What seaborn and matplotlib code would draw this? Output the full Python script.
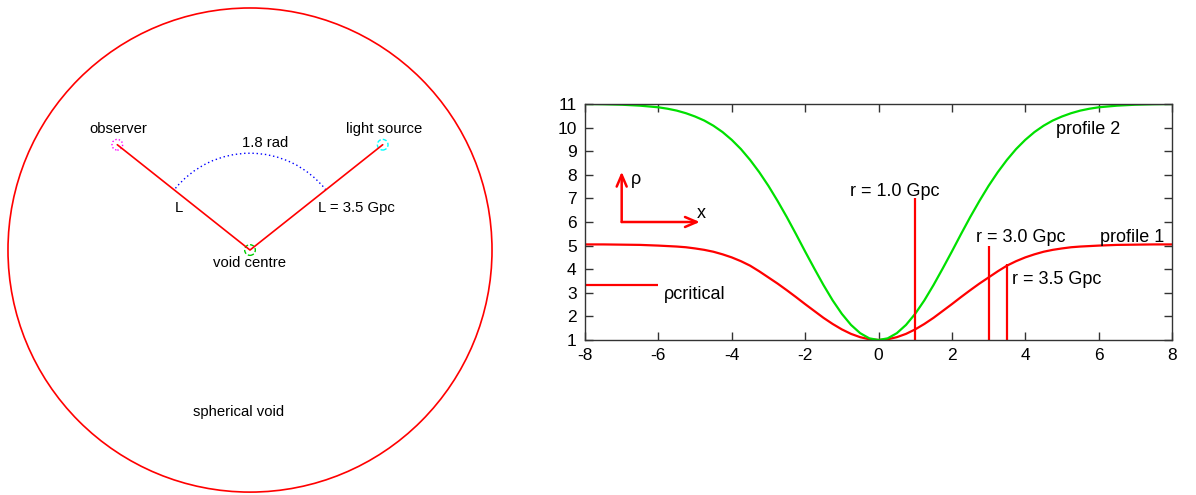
import numpy as np
import pandas as pd
import matplotlib
matplotlib.use('Agg')
import matplotlib.pyplot as plt
from matplotlib.patches import Circle, Arc
import seaborn as sns

# Density profiles
x_vals = [-8.0, -7.5, -7.0, -6.5, -6.0, -5.75, -5.5, -5.25, -5.0, -4.75, -4.5, -4.25,
          -4.0, -3.75, -3.5, -3.25, -3.0, -2.75, -2.5, -2.25, -2.0, -1.75, -1.5, -1.25,
          -1.0, -0.75, -0.5, -0.25, 0.0, 0.25, 0.5, 0.75, 1.0, 1.25, 1.5, 1.75,
          2.0, 2.25, 2.5, 2.75, 3.0, 3.25, 3.5, 3.75, 4.0, 4.25, 4.5, 4.75,
          5.0, 5.25, 5.5, 5.75, 6.0, 6.5, 7.0, 7.5, 8.0]
profile1 = [5.05, 5.05, 5.04, 5.03, 5.00, 4.98, 4.96, 4.93, 4.88, 4.82, 4.74, 4.63,
            4.50, 4.34, 4.15, 3.91, 3.65, 3.39, 3.11, 2.82, 2.52, 2.23, 1.94, 1.68,
            1.45, 1.26, 1.12, 1.03, 1.00, 1.03, 1.12, 1.26, 1.45, 1.68, 1.94, 2.23,
            2.52, 2.82, 3.11, 3.39, 3.65, 3.91, 4.15, 4.34, 4.50, 4.63, 4.74, 4.82,
            4.88, 4.93, 4.96, 4.98, 5.00, 5.03, 5.04, 5.05, 5.05]
profile2 = [11.00, 10.99, 10.97, 10.93, 10.86, 10.80, 10.72, 10.61, 10.47, 10.30, 10.08, 9.81,
            9.48, 9.09, 8.63, 8.11, 7.53, 6.89, 6.21, 5.49, 4.75, 4.03, 3.33, 2.68,
            2.11, 1.64, 1.29, 1.07, 1.00, 1.07, 1.29, 1.64, 2.11, 2.68, 3.33, 4.03,
            4.75, 5.49, 6.21, 6.89, 7.53, 8.11, 8.63, 9.09, 9.48, 9.81, 10.08, 10.30,
            10.47, 10.61, 10.72, 10.80, 10.86, 10.93, 10.97, 10.99, 11.00]

# radial markers
r_marks = [1.0, 3.0, 3.5]
r_tops = [7.0, 5.0, 4.2]
r_labels = ['r = 1.0 Gpc', 'r = 3.0 Gpc', 'r = 3.5 Gpc']
rho_critical = 3.35

# void diagram (Gpc / rad)
void_radius = 5.0
L = 3.5
angle = 1.8
arc_radius = 2.0

sns.set_theme(style='white')
plt.rcParams['font.family'] = ['Liberation Sans', 'DejaVu Sans']
plt.rcParams['axes.unicode_minus'] = False
plt.rcParams['text.color'] = 'black'
plt.rcParams['xtick.labelcolor'] = 'black'
plt.rcParams['ytick.labelcolor'] = 'black'

fig = plt.figure(figsize=(11.96, 4.95), dpi=100)

# ---- left: void diagram ----
ax1 = fig.add_axes([0, 0, 500 / 1196, 1])
ax1.set_xlim(-5.165, 5.165)
ax1.set_ylim(-5.06, 5.165)
ax1.axis('off')

half = angle / 2
obs = (-L * np.sin(half), L * np.cos(half))
src = (L * np.sin(half), L * np.cos(half))

ax1.add_patch(Circle((0, 0), void_radius, fill=False, ec='red', lw=1.2))
ax1.plot([obs[0], 0, src[0]], [obs[1], 0, src[1]], color='red', lw=1.2)
ax1.add_patch(Arc((0, 0), 2 * arc_radius, 2 * arc_radius,
                  theta1=90 - np.degrees(half), theta2=90 + np.degrees(half),
                  color='blue', ls=(0, (1, 2)), lw=1.0))
ax1.add_patch(Circle(obs, 0.11, fill=False, ec='magenta', ls=(0, (1, 1.5)), lw=1.0))
ax1.add_patch(Circle(src, 0.11, fill=False, ec='cyan', ls=(0, (3, 1.5)), lw=1.0))
ax1.add_patch(Circle((0, 0), 0.11, fill=False, ec='#00cc00', ls=(0, (3, 1.5)), lw=1.0))

fs1 = 10.7
ax1.text(-2.73, 2.41, 'observer', ha='center', va='baseline', fontsize=fs1)
ax1.text(2.77, 2.41, 'light source', ha='center', va='baseline', fontsize=fs1)
ax1.text(0.32, 2.13, '1.8 rad', ha='center', va='baseline', fontsize=fs1)
ax1.text(-1.47, 0.78, 'L', ha='center', va='baseline', fontsize=fs1)
ax1.text(2.20, 0.78, 'L = 3.5 Gpc', ha='center', va='baseline', fontsize=fs1)
ax1.text(-0.02, -0.34, 'void centre', ha='center', va='baseline', fontsize=fs1)
ax1.text(-0.24, -3.42, 'spherical void', ha='center', va='baseline', fontsize=fs1)

# ---- right: density profiles ----
ax2 = fig.add_axes([585 / 1196, (495 - 340) / 495, 587 / 1196, 236 / 495])

df = pd.DataFrame({
    'x': x_vals * 2,
    'rho': profile1 + profile2,
    'profile': ['profile 1'] * len(x_vals) + ['profile 2'] * len(x_vals),
})
sns.lineplot(data=df, x='x', y='rho', hue='profile',
             palette={'profile 1': '#ff0000', 'profile 2': '#00e000'},
             legend=False, lw=1.6, ax=ax2)

ax2.vlines(r_marks, 1, r_tops, color='#ff0000', lw=1.6)
ax2.hlines(rho_critical, -8, -6, color='#ff0000', lw=1.6)

fs2 = 13
ax2.text(-0.78, 7.12, r_labels[0], ha='left', va='baseline', fontsize=fs2)
ax2.text(2.66, 5.14, r_labels[1], ha='left', va='baseline', fontsize=fs2)
ax2.text(3.63, 3.37, r_labels[2], ha='left', va='baseline', fontsize=fs2)
ax2.text(6.04, 5.17, 'profile 1', ha='left', va='baseline', fontsize=fs2)
ax2.text(4.84, 9.72, 'profile 2', ha='left', va='baseline', fontsize=fs2)
ax2.text(-5.85, 2.72, 'ρcritical', ha='left', va='baseline', fontsize=fs2)

# rho / x direction arrows
arrow_origin = (-7.0, 6.0)
arrow_up = (-7.0, 8.13)
arrow_right = (-4.87, 6.0)
for tip in (arrow_up, arrow_right):
    ax2.annotate('', xy=tip, xytext=arrow_origin,
                 arrowprops=dict(arrowstyle='->,head_length=0.7,head_width=0.3',
                                 color='#ff0000', lw=1.8, shrinkA=0, shrinkB=0))
ax2.text(-6.75, 7.78, 'ρ', ha='left', va='center', fontsize=fs2)
ax2.text(-4.96, 6.34, 'x', ha='left', va='center', fontsize=fs2)

ax2.set_xlim(-8, 8)
ax2.set_ylim(1, 11)
ax2.set_xticks(np.arange(-8, 9, 2))
ax2.set_yticks(np.arange(1, 12, 1))
ax2.set_xlabel('')
ax2.set_ylabel('')
ax2.tick_params(direction='in', length=6, width=1, color='#333333',
                top=True, right=True, bottom=True, left=True,
                labelsize=12.5, pad=6)
for s in ax2.spines.values():
    s.set_color('#333333')
    s.set_linewidth(1.0)

fig.savefig('out.png', dpi=100)
